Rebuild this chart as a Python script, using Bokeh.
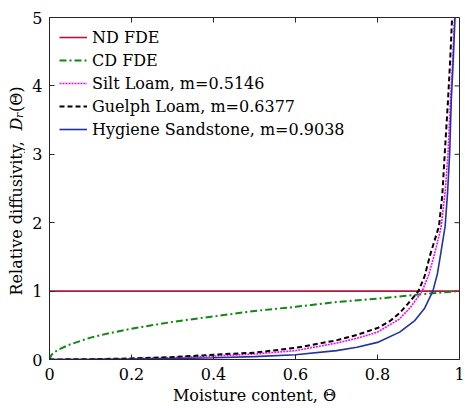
import numpy as np
from bokeh.plotting import figure
from bokeh.layouts import row
from bokeh.models import Range1d, FixedTicker, Legend, LegendItem
from bokeh.core.properties import value
from bokeh.embed import file_html
from bokeh.resources import INLINE

# ---- data ----
x_ticks = [0, 0.2, 0.4, 0.6, 0.8, 1]
x_tick_labels = ["0", "0.2", "0.4", "0.6", "0.8", "1"]
y_ticks = [0, 1, 2, 3, 4, 5]

theta_nd = [0, 1]
d_nd = [1, 1]

theta_cd = [0, 0.005, 0.02, 0.05, 0.1, 0.15, 0.2, 0.3, 0.4, 0.5, 0.6, 0.7, 0.8, 0.9, 1.0]
d_cd = [0, 0.07, 0.14, 0.22, 0.32, 0.39, 0.45, 0.55, 0.63, 0.71, 0.77, 0.84, 0.89, 0.95, 1.0]

theta_silt = [0, 0.1, 0.2, 0.3, 0.4, 0.5, 0.6, 0.7, 0.75, 0.8, 0.853, 0.88, 0.909, 0.925,
              0.939, 0.955, 0.965, 0.972, 0.978, 0.983, 0.988]
d_silt = [0, 0.004, 0.012, 0.028, 0.05, 0.08, 0.13, 0.24, 0.31, 0.40, 0.59, 0.76, 1.0, 1.24,
          1.54, 1.93, 2.45, 3.01, 3.79, 4.35, 5.0]

theta_guelph = [0, 0.1, 0.2, 0.3, 0.4, 0.5, 0.6, 0.7, 0.75, 0.8, 0.832, 0.854, 0.875, 0.90,
                0.915, 0.929, 0.95, 0.958, 0.964, 0.972, 0.977, 0.982]
d_guelph = [0, 0.005, 0.015, 0.035, 0.07, 0.10, 0.17, 0.28, 0.36, 0.46, 0.57, 0.68, 0.82, 1.0,
            1.22, 1.54, 1.95, 2.4, 3.01, 3.79, 4.35, 5.0]

theta_hyg = [0, 0.1, 0.2, 0.3, 0.4, 0.5, 0.6, 0.7, 0.75, 0.8, 0.854, 0.891, 0.915, 0.935,
             0.946, 0.954, 0.965, 0.971, 0.976, 0.980, 0.985, 0.989]
d_hyg = [0, 0.002, 0.006, 0.013, 0.025, 0.042, 0.07, 0.13, 0.18, 0.25, 0.40, 0.57, 0.75, 1.0,
         1.25, 1.54, 1.95, 2.45, 3.01, 3.79, 4.4, 5.0]

series_labels = ["ND FDE", "CD FDE", "Silt Loam, m=0.5146", "Guelph Loam, m=0.6377",
                 "Hygiene Sandstone, m=0.9038"]
y_label_parts = ["Relative diffusivity,", "D", "r", "(Θ)"]

FONT = "DejaVu Serif"
FS = "16px"
AX = "#262626"
H = 408
STRIP = 25

p = figure(width=465 - STRIP, height=H, output_backend="svg", toolbar_location=None,
           x_range=Range1d(0, 1), y_range=Range1d(0, 5),
           min_border_left=49 - STRIP, min_border_right=6, min_border_top=17,
           min_border_bottom=49)
p.grid.visible = False
p.outline_line_color = AX
p.outline_line_width = 1
p.background_fill_color = "white"
p.border_fill_color = "white"

for ax, ticks in ((p.xaxis[0], x_ticks), (p.yaxis[0], y_ticks)):
    ax.ticker = FixedTicker(ticks=ticks)
    ax.major_tick_in = 5
    ax.major_tick_out = 0
    ax.minor_tick_in = 0
    ax.minor_tick_out = 0
    ax.axis_line_color = AX
    ax.major_tick_line_color = AX
    ax.major_label_text_font = FONT
    ax.major_label_text_font_size = FS
    ax.major_label_text_color = "black"
p.xaxis[0].major_label_overrides = {t: s for t, s in zip(x_ticks, x_tick_labels)}
p.xaxis[0].major_label_standoff = 8
p.yaxis[0].major_label_standoff = 7
p.xaxis[0].axis_label = "Moisture content, Θ"
p.xaxis[0].axis_label_text_font = FONT
p.xaxis[0].axis_label_text_font_size = FS
p.xaxis[0].axis_label_text_font_style = "normal"
p.xaxis[0].axis_label_text_color = "black"
p.xaxis[0].axis_label_standoff = 3

# mirrored inward ticks on the top and right edges of the box
p.ray(x=x_ticks, y=[5] * len(x_ticks), length=5, length_units="screen",
      angle=-np.pi / 2, line_color=AX, line_width=1)
p.ray(x=[1] * len(y_ticks), y=y_ticks, length=5, length_units="screen",
      angle=np.pi, line_color=AX, line_width=1)

r_nd = p.line(theta_nd, d_nd, line_color="#B0173A", line_width=1.6)
r_cd = p.line(theta_cd, d_cd, line_color="#118811", line_width=2, line_dash="7 3 2 3")
r_silt = p.line(theta_silt, d_silt, line_color="#FF00FF", line_width=1.6, line_dash="2 1")
r_gu = p.line(theta_guelph, d_guelph, line_color="black", line_width=2, line_dash="5 3")
r_hy = p.line(theta_hyg, d_hyg, line_color="#2233A0", line_width=1.6)

legend = Legend(items=[LegendItem(label=l, renderers=[r]) for l, r in
                       zip(series_labels, [r_nd, r_cd, r_silt, r_gu, r_hy])],
                location="top_left")
legend.border_line_color = None
legend.background_fill_alpha = 0
legend.label_text_font = FONT
legend.label_text_font_size = FS
legend.label_text_color = "black"
legend.glyph_width = 28
legend.glyph_height = 20
legend.label_height = 20
legend.spacing = 3
legend.padding = 10
legend.margin = 10
legend.label_standoff = 5
p.add_layout(legend)

# narrow strip on the left holding the rotated y-axis label; its frame is aligned
# with the main frame (canvas rows 17..359), so its y range is in canvas pixels
lab = figure(width=STRIP, height=H, output_backend="svg", toolbar_location=None,
             x_range=Range1d(0, STRIP), y_range=Range1d(H - 359, H - 17),
             x_axis_type=None, y_axis_type=None, min_border=0,
             min_border_top=17, min_border_bottom=49)
lab.grid.visible = False
lab.outline_line_color = None
lab.background_fill_color = "white"
lab.border_fill_color = "white"

label_specs = [  # (x, canvas row of text start, style, size)
    (16, 295, "normal", "16px"),
    (16, 130, "italic", "16px"),
    (19, 117.5, "italic", "11px"),
    (16, 111.5, "normal", "16px"),
]
for txt, (lx, row_px, st, fs) in zip(y_label_parts, label_specs):
    lab.text(x=[lx], y=[H - row_px], text=[txt], angle=np.pi / 2, text_font=value(FONT),
             text_font_size=fs, text_font_style=st, text_align="left",
             text_baseline="alphabetic", text_color="black")

layout = row(lab, p, spacing=0)
open("out.html", "w").write(file_html(layout, INLINE))
